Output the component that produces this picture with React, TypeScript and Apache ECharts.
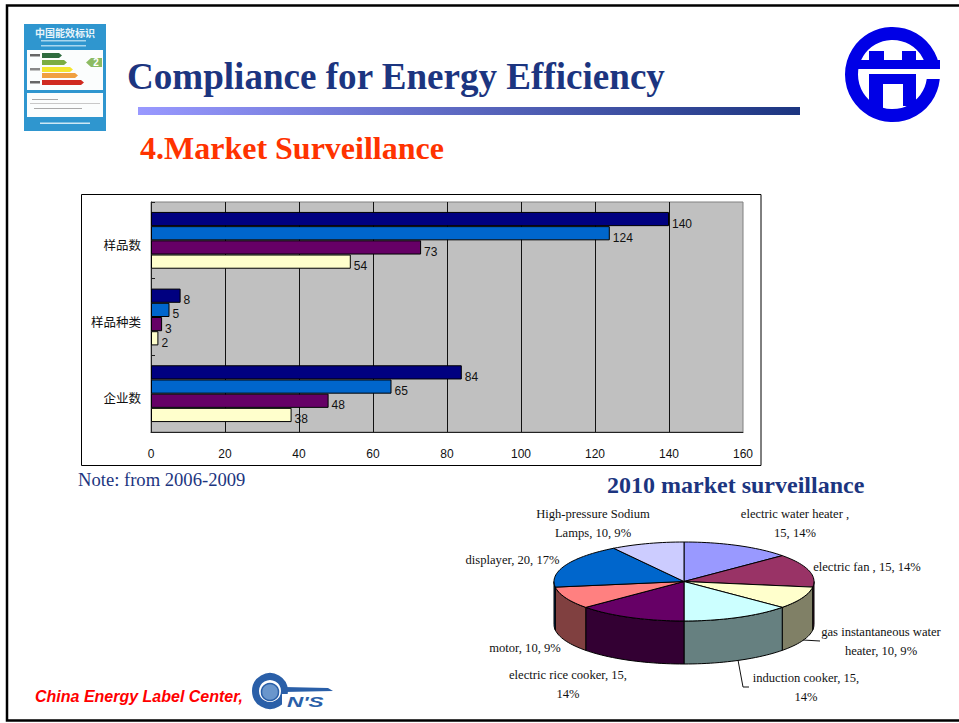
import React, { useEffect, useRef } from "react";
import * as echarts from "echarts";

const barCategories = ["样品数", "样品种类", "企业数"];
const seriesA = [140, 8, 84];
const seriesB = [124, 5, 65];
const seriesC = [73, 3, 48];
const seriesD = [54, 2, 38];
const barColors = ["#000080", "#0066CC", "#660066", "#FFFFCC"];

const pieNames = ["electric water heater", "electric fan", "gas instantaneous water heater", "induction cooker", "electric rice cooker", "motor", "displayer", "High-pressure Sodium Lamps"];
const pieValues = [15, 15, 10, 15, 15, 10, 20, 10];
const piePercents = ["14%", "14%", "9%", "14%", "14%", "9%", "17%", "9%"];
const pieTop = ["#9999FF", "#993366", "#FFFFCC", "#CCFFFF", "#660066", "#FF8080", "#0066CC", "#CCCCFF"];
const pieSide = ["#4D4D80", "#4D1A33", "#808066", "#668080", "#330033", "#804040", "#003366", "#666680"];

const SERIF = "'Liberation Serif'";
const SANS = "'Liberation Sans'";
const NAVY = "#1C3580";

const CX = 684, CY = 581.5, RX = 130, RY = 39.5, DEPTH = 43;

const pieTotal = pieValues.reduce((a, b) => a + b, 0);
const ell = (deg: number, dy = 0) => {
  const t = (deg * Math.PI) / 180;
  return [CX + RX * Math.sin(t), CY - RY * Math.cos(t) + dy];
};
const arc = (a: number, b: number, dy = 0) => {
  const pts: number[][] = [];
  const n = Math.max(2, Math.ceil((b - a) / 2));
  for (let i = 0; i <= n; i++) pts.push(ell(a + ((b - a) * i) / n, dy));
  return pts;
};

const renderSlice = (params: any, api: any) => {
  const i = params.dataIndex;
  let before = 0;
  for (let k = 0; k < i; k++) before += pieValues[k];
  const a = (before / pieTotal) * 360;
  const b = a + (api.value(0) / pieTotal) * 360;
  const children: any[] = [];
  const sa = Math.max(a, 90), sb = Math.min(b, 270);
  if (sb > sa) {
    children.push({
      type: "polygon",
      shape: { points: [...arc(sa, sb), ...arc(sa, sb, DEPTH).reverse()] },
      style: { fill: pieSide[i], stroke: "#000", lineWidth: 1 },
    });
  }
  children.push({
    type: "polygon",
    shape: { points: [[CX, CY], ...arc(a, b)] },
    style: { fill: pieTop[i], stroke: "#000", lineWidth: 1 },
  });
  return { type: "group", children };
};

const txt = (x: number, y: number, text: string, size: number, fill: string, extra: any = {}, el: any = {}) => ({
  type: "text",
  x,
  y,
  z: 20,
  ...el,
  style: { text, fontSize: size, fill, fontFamily: SERIF, verticalAlign: "middle", ...extra },
});
const pieLabel = (x: number, y: number, text: string) =>
  txt(x, y, text, 12.6, "#111", { align: "center", lineHeight: 19 });
const rect = (x: number, y: number, w: number, h: number, fill: string, z = 10) => ({
  type: "rect", z, shape: { x, y, width: w, height: h }, style: { fill },
});
const tag = (x: number, y: number, w: number, h: number, fill: string) => ({
  type: "polygon", z: 12,
  shape: { points: [[x, y], [x + w - 3, y], [x + w, y + h / 2], [x + w - 3, y + h], [x, y + h]] },
  style: { fill },
});

const buildLabelBadge = () => [
  rect(24, 24, 82, 107, "#2F96CF"),
  txt(65, 32, "中国能效标识", 10, "#E8F4FA", { align: "center", fontFamily: "'Noto Sans CJK SC'", fontWeight: "bold" }),
  rect(41, 40, 45, 1.5, "#A8D6EE", 11),
  rect(41, 45, 45, 1.5, "#A8D6EE", 11),
  rect(27, 50, 76, 40, "#FBFDFD", 11),
  rect(27, 93, 76, 24, "#FBFDFD", 11),
  rect(30, 54, 10, 2.5, "#666", 12),
  rect(30, 68, 10, 2.5, "#888", 12),
  rect(30, 81, 10, 2.5, "#666", 12),
  tag(42, 53, 20, 5, "#2E6B3E"),
  tag(42, 60, 25, 5, "#7CAD41"),
  tag(42, 67, 31, 5, "#F5E62E"),
  tag(42, 73, 36, 5, "#F0A040"),
  tag(42, 80, 42, 5, "#D02A20"),
  { type: "polygon", z: 12, shape: { points: [[91, 58], [102, 58], [102, 67], [91, 67], [86, 62.5]] }, style: { fill: "#8DBB62" } },
  txt(96, 62.5, "2", 10, "#fff", { align: "center", fontFamily: SANS, fontWeight: "bold" }),
  rect(32, 99, 26, 1, "#AAA", 12),
  rect(30, 103, 70, 1, "#C8C8C8", 12),
  rect(34, 108, 48, 1, "#AAA", 12),
  rect(40, 122.5, 50, 1.5, "#CDE8F5", 11),
];

const LOGO = "#0000E6";
const buildTopLogo = () => [
  { type: "circle", z: 10, shape: { cx: 892.5, cy: 74.5, r: 41 }, style: { fill: "#fff", stroke: LOGO, lineWidth: 13 } },
  rect(850, 60, 90, 9, LOGO, 11),
  rect(869, 51, 15, 9, LOGO, 11),
  rect(902, 51, 14, 9, LOGO, 11),
  rect(869, 74, 47, 10, LOGO, 11),
  rect(869, 84, 14, 28, LOGO, 11),
  rect(903, 84, 13, 22, LOGO, 11),
  rect(917, 69, 25, 10, "#fff", 11),
];

const CNIS = "#2A5FA8";
const buildFootLogo = () => [
  { type: "circle", z: 10, shape: { cx: 270, cy: 691, r: 14.5 }, style: { fill: "#fff", stroke: CNIS, lineWidth: 7 } },
  { type: "circle", z: 11, shape: { cx: 270, cy: 692, r: 8.5 }, style: { fill: "#6A96CC", stroke: "#2A5FA8", lineWidth: 1.5 } },
  { type: "polygon", z: 11, shape: { points: [[284, 687], [328, 688], [333, 691], [284, 692]] }, style: { fill: CNIS } },
  rect(282, 694, 12, 14, "#fff", 11),
  txt(287, 702, "N'S", 15, CNIS, { fontFamily: SANS, fontWeight: "bold", fontStyle: "italic" }, { scaleX: 1.5 }),
];

export default function App() {
  const ref = useRef<HTMLDivElement>(null);
  useEffect(() => {
    document.body.style.margin = "0";
    const chart = echarts.init(ref.current!, undefined, { renderer: "svg" });
    const barSeries = [seriesA, seriesB, seriesC, seriesD].map((values, i) => ({
      type: "bar",
      data: values,
      barWidth: 14.2,
      barGap: "0%",
      itemStyle: { color: barColors[i], borderColor: "#000", borderWidth: 1 },
      label: { show: true, position: "right", distance: 3, color: "#111", fontFamily: SANS, fontSize: 12, offset: [0, 4.5] },
      z: 5,
    }));
    chart.setOption({
      animation: false,
      backgroundColor: "#fff",
      grid: { left: 151, top: 202, width: 592, height: 230, show: true, backgroundColor: "#C0C0C0", borderColor: "#808080", borderWidth: 1, containLabel: false },
      xAxis: {
        type: "value", min: 0, max: 160, interval: 20,
        axisLine: { show: true, lineStyle: { color: "#222" } },
        axisTick: { show: false },
        splitLine: { show: true, showMinLine: false, showMaxLine: false, lineStyle: { color: "#111", width: 1 } },
        axisLabel: { color: "#111", fontFamily: SANS, fontSize: 12, margin: 16 },
      },
      yAxis: {
        type: "category", inverse: true, data: barCategories,
        axisLine: { show: true, lineStyle: { color: "#222" } },
        axisTick: { show: true, inside: true, length: 4, lineStyle: { color: "#222" } },
        axisLabel: { color: "#111", fontFamily: "'Noto Sans CJK SC'", fontSize: 12.5, margin: 10, verticalAlign: "top", lineHeight: 8 },
      },
      series: [
        ...barSeries,
        {
          type: "custom",
          coordinateSystem: "none",
          renderItem: renderSlice,
          data: pieValues.map((v, i) => ({ name: pieNames[i], value: [v] })),
          silent: true,
          z: 6,
        },
      ],
      graphic: [
        { type: "rect", z: -10, shape: { x: 81.5, y: 194.5, width: 679.5, height: 271 }, style: { fill: "#fff", stroke: "#000", lineWidth: 1 } },
        { type: "rect", z: 0, shape: { x: 7, y: 5.5, width: 960, height: 715 }, style: { fill: "none", stroke: "#000", lineWidth: 2.5 } },
        ...buildLabelBadge(),
        ...buildTopLogo(),
        ...buildFootLogo(),
        txt(127, 76, "Compliance for Energy Efficiency", 37.1, NAVY, { fontWeight: "bold" }),
        {
          type: "rect", z: 10, shape: { x: 138, y: 107, width: 662, height: 8 },
          style: { fill: new echarts.graphic.LinearGradient(0, 0, 1, 0, [{ offset: 0, color: "#9999FF" }, { offset: 1, color: NAVY }]) },
        },
        txt(140, 148, "4.Market Surveillance", 32, "#FF3300", { fontWeight: "bold" }),
        txt(78, 479, "Note: from 2006-2009", 18.6, NAVY),
        txt(607, 485, "2010 market surveillance", 24, NAVY, { fontWeight: "bold" }),
        pieLabel(593, 523, `${pieNames[7].replace(" Lamps", "")}\nLamps, ${pieValues[7]}, ${piePercents[7]}`),
        pieLabel(795, 523, `${pieNames[0]} ,\n${pieValues[0]}, ${piePercents[0]}`),
        pieLabel(867, 567, `${pieNames[1]} , ${pieValues[1]}, ${piePercents[1]}`),
        pieLabel(881, 641, `${pieNames[2].replace(" heater", "")}\nheater, ${pieValues[2]}, ${piePercents[2]}`),
        pieLabel(806, 687, `${pieNames[3]}, ${pieValues[3]},\n${piePercents[3]}`),
        pieLabel(568, 684, `${pieNames[4]}, ${pieValues[4]},\n${piePercents[4]}`),
        pieLabel(525, 648, `${pieNames[5]}, ${pieValues[5]}, ${piePercents[5]}`),
        pieLabel(512.5, 560, `${pieNames[6]}, ${pieValues[6]}, ${piePercents[6]}`),
        { type: "polyline", z: 15, shape: { points: [[803, 640], [820, 641]] }, style: { stroke: "#111", fill: "none", lineWidth: 1 } },
        { type: "polyline", z: 15, shape: { points: [[738, 660], [743, 687], [749, 687]] }, style: { stroke: "#111", fill: "none", lineWidth: 1 } },
        txt(35, 696, "China Energy Label Center,", 16, "#FF0000", { fontFamily: SANS, fontWeight: "bold", fontStyle: "italic" }),
      ],
    });
    return () => chart.dispose();
  }, []);
  return <div ref={ref} style={{ position: "absolute", left: 0, top: 0, width: 959, height: 723, overflow: "hidden" }} />;
}
